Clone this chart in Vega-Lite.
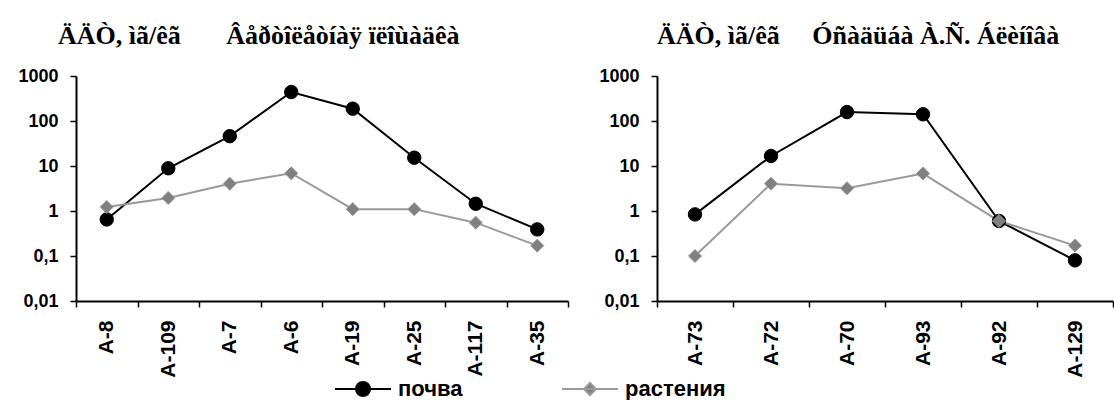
{
  "$schema": "https://vega.github.io/schema/vega-lite/v6.json",
  "background": "white",
  "padding": {"left": 17, "top": 23, "right": 0, "bottom": 0},
  "autosize": {"type": "pad"},
  "bounds": "flush",
  "datasets": {
    "left": [
      {"site": "A-8", "series": "почва", "value": 0.65},
      {"site": "A-109", "series": "почва", "value": 8.9},
      {"site": "A-7", "series": "почва", "value": 46},
      {"site": "A-6", "series": "почва", "value": 440},
      {"site": "A-19", "series": "почва", "value": 188},
      {"site": "A-25", "series": "почва", "value": 15.3},
      {"site": "A-117", "series": "почва", "value": 1.45},
      {"site": "A-35", "series": "почва", "value": 0.39},
      {"site": "A-8", "series": "растения", "value": 1.23},
      {"site": "A-109", "series": "растения", "value": 1.95},
      {"site": "A-7", "series": "растения", "value": 4.05},
      {"site": "A-6", "series": "растения", "value": 6.9},
      {"site": "A-19", "series": "растения", "value": 1.1},
      {"site": "A-25", "series": "растения", "value": 1.1},
      {"site": "A-117", "series": "растения", "value": 0.55},
      {"site": "A-35", "series": "растения", "value": 0.17}
    ],
    "right": [
      {"site": "A-73", "series": "почва", "value": 0.84},
      {"site": "A-72", "series": "почва", "value": 16.7},
      {"site": "A-70", "series": "почва", "value": 158},
      {"site": "A-93", "series": "почва", "value": 141},
      {"site": "A-92", "series": "почва", "value": 0.6},
      {"site": "A-129", "series": "почва", "value": 0.08},
      {"site": "A-73", "series": "растения", "value": 0.1},
      {"site": "A-72", "series": "растения", "value": 4.05},
      {"site": "A-70", "series": "растения", "value": 3.2},
      {"site": "A-93", "series": "растения", "value": 6.8},
      {"site": "A-92", "series": "растения", "value": 0.6},
      {"site": "A-129", "series": "растения", "value": 0.17}
    ]
  },
  "config": {
    "view": {"stroke": null},
    "axis": {
      "domainColor": "#000000", "domainWidth": 2,
      "tickColor": "#000000", "tickWidth": 1.5, "tickSize": 6,
      "labelFont": "Liberation Sans", "labelFontWeight": "bold", "labelColor": "#000000",
      "grid": false
    },
    "title": {
      "font": "Liberation Serif", "fontSize": 26, "fontWeight": "bold", "color": "#000000",
      "anchor": "start", "baseline": "alphabetic", "offset": 18
    },
    "legend": {
      "orient": "none", "legendX": 276, "legendY": 302,
      "direction": "horizontal", "title": null, "padding": 0,
      "symbolSize": 400, "symbolStrokeWidth": 2, "symbolOpacity": 1,
      "labelFont": "Liberation Sans", "labelFontWeight": "bold", "labelFontSize": 22,
      "labelColor": "#000000", "labelOffset": 24, "columnPadding": 95
    }
  },
  "spacing": 89,
  "resolve": {
    "scale": {"x": "independent", "shape": "independent"},
    "legend": {"fill": "independent", "stroke": "independent", "shape": "independent"}
  },
  "hconcat": [
    {
      "width": 492, "height": 225,
      "title": {"text": "ÄÄÒ, ìã/êã\u00a0\u00a0\u00a0\u00a0\u00a0\u00a0\u00a0Âåðòîëåòíàÿ ïëîùàäêà", "dx": -18, "frame": "group"},
      "data": {"name": "left"},
      "encoding": {
        "x": {"field": "site", "type": "nominal", "sort": null, "title": null,
          "scale": {"type": "band", "paddingInner": 0, "paddingOuter": 0},
          "axis": {"labelAngle": -90, "labelFontSize": 21, "labelPadding": 13, "tickBand": "extent"}},
        "y": {"field": "value", "type": "quantitative", "title": null,
          "scale": {"type": "log", "domain": [0.01, 1000], "nice": false},
          "axis": {"values": [0.01, 0.1, 1, 10, 100, 1000], "labelFontSize": 18, "labelPadding": 12,
            "labelExpr": "replace(toString(datum.value), '.', ',')"}}
      },
      "resolve": {
        "scale": {"shape": "independent"},
        "legend": {"fill": "independent", "stroke": "independent", "shape": "independent"}
      },
      "layer": [
        {
          "mark": {"type": "line", "strokeWidth": 2},
          "encoding": {
            "stroke": {"field": "series", "type": "nominal", "legend": null,
              "scale": {"domain": ["почва", "растения"], "range": ["#000000", "#999999"]}}
          }
        },
        {
          "mark": {"type": "point", "filled": true, "opacity": 1, "strokeWidth": 1},
          "encoding": {
            "shape": {"field": "series", "type": "nominal", "legend": null,
              "scale": {"domain": ["почва", "растения"], "range": ["circle", "diamond"]}},
            "size": {"field": "series", "type": "nominal", "legend": null,
              "scale": {"domain": ["почва", "растения"], "range": [180, 170]}},
            "stroke": {"field": "series", "type": "nominal", "legend": null},
            "fill": {"field": "series", "type": "nominal", "legend": null,
              "scale": {"domain": ["почва", "растения"], "range": ["#000000", "#808080"]}}
          }
        },
        {
          "transform": [{"filter": "datum.value < 0"}],
          "mark": {"type": "point", "filled": true, "opacity": 1, "strokeWidth": 2, "size": 400},
          "encoding": {
            "shape": {"field": "series", "type": "nominal",
              "scale": {"domain": ["почва", "растения"], "range": ["M-2.8,0L2.8,0M0.7,0C0.7,0.3866,0.3866,0.7,0,0.7C-0.3866,0.7,-0.7,0.3866,-0.7,0C-0.7,-0.3866,-0.3866,-0.7,0,-0.7C0.3866,-0.7,0.7,-0.3866,0.7,0Z", "M-2.8,0L2.8,0M0,-0.6L0.6,0L0,0.6L-0.6,0Z"]},
              "legend": {"orient": "none", "legendX": 276, "legendY": 302, "title": null}},
            "fill": {"field": "series", "type": "nominal",
              "scale": {"domain": ["почва", "растения"], "range": ["#000000", "#808080"]},
              "legend": {"orient": "none", "legendX": 276, "legendY": 302, "title": null}},
            "stroke": {"field": "series", "type": "nominal",
              "scale": {"domain": ["почва", "растения"], "range": ["#000000", "#999999"]},
              "legend": {"orient": "none", "legendX": 276, "legendY": 302, "title": null}}
          }
        }
      ]
    },
    {
      "width": 456, "height": 225,
      "title": {"text": "ÄÄÒ, ìã/êã\u00a0\u00a0\u00a0\u00a0\u00a0Óñàäüáà À.Ñ. Áëèíîâà", "dx": 0, "frame": "group"},
      "data": {"name": "right"},
      "encoding": {
        "x": {"field": "site", "type": "nominal", "sort": null, "title": null,
          "scale": {"type": "band", "paddingInner": 0, "paddingOuter": 0},
          "axis": {"labelAngle": -90, "labelFontSize": 21, "labelPadding": 13, "tickBand": "extent"}},
        "y": {"field": "value", "type": "quantitative", "title": null,
          "scale": {"type": "log", "domain": [0.01, 1000], "nice": false},
          "axis": {"values": [0.01, 0.1, 1, 10, 100, 1000], "labelFontSize": 18, "labelPadding": 12,
            "labelExpr": "replace(toString(datum.value), '.', ',')"}}
      },
      "layer": [
        {
          "mark": {"type": "line", "strokeWidth": 2},
          "encoding": {
            "stroke": {"field": "series", "type": "nominal", "legend": null,
              "scale": {"domain": ["почва", "растения"], "range": ["#000000", "#999999"]}}
          }
        },
        {
          "mark": {"type": "point", "filled": true, "opacity": 1, "strokeWidth": 1},
          "encoding": {
            "shape": {"field": "series", "type": "nominal", "legend": null,
              "scale": {"domain": ["почва", "растения"], "range": ["circle", "diamond"]}},
            "size": {"field": "series", "type": "nominal", "legend": null,
              "scale": {"domain": ["почва", "растения"], "range": [180, 170]}},
            "stroke": {"field": "series", "type": "nominal", "legend": null},
            "fill": {"field": "series", "type": "nominal", "legend": null,
              "scale": {"domain": ["почва", "растения"], "range": ["#000000", "#808080"]}}
          }
        }
      ]
    }
  ]
}
